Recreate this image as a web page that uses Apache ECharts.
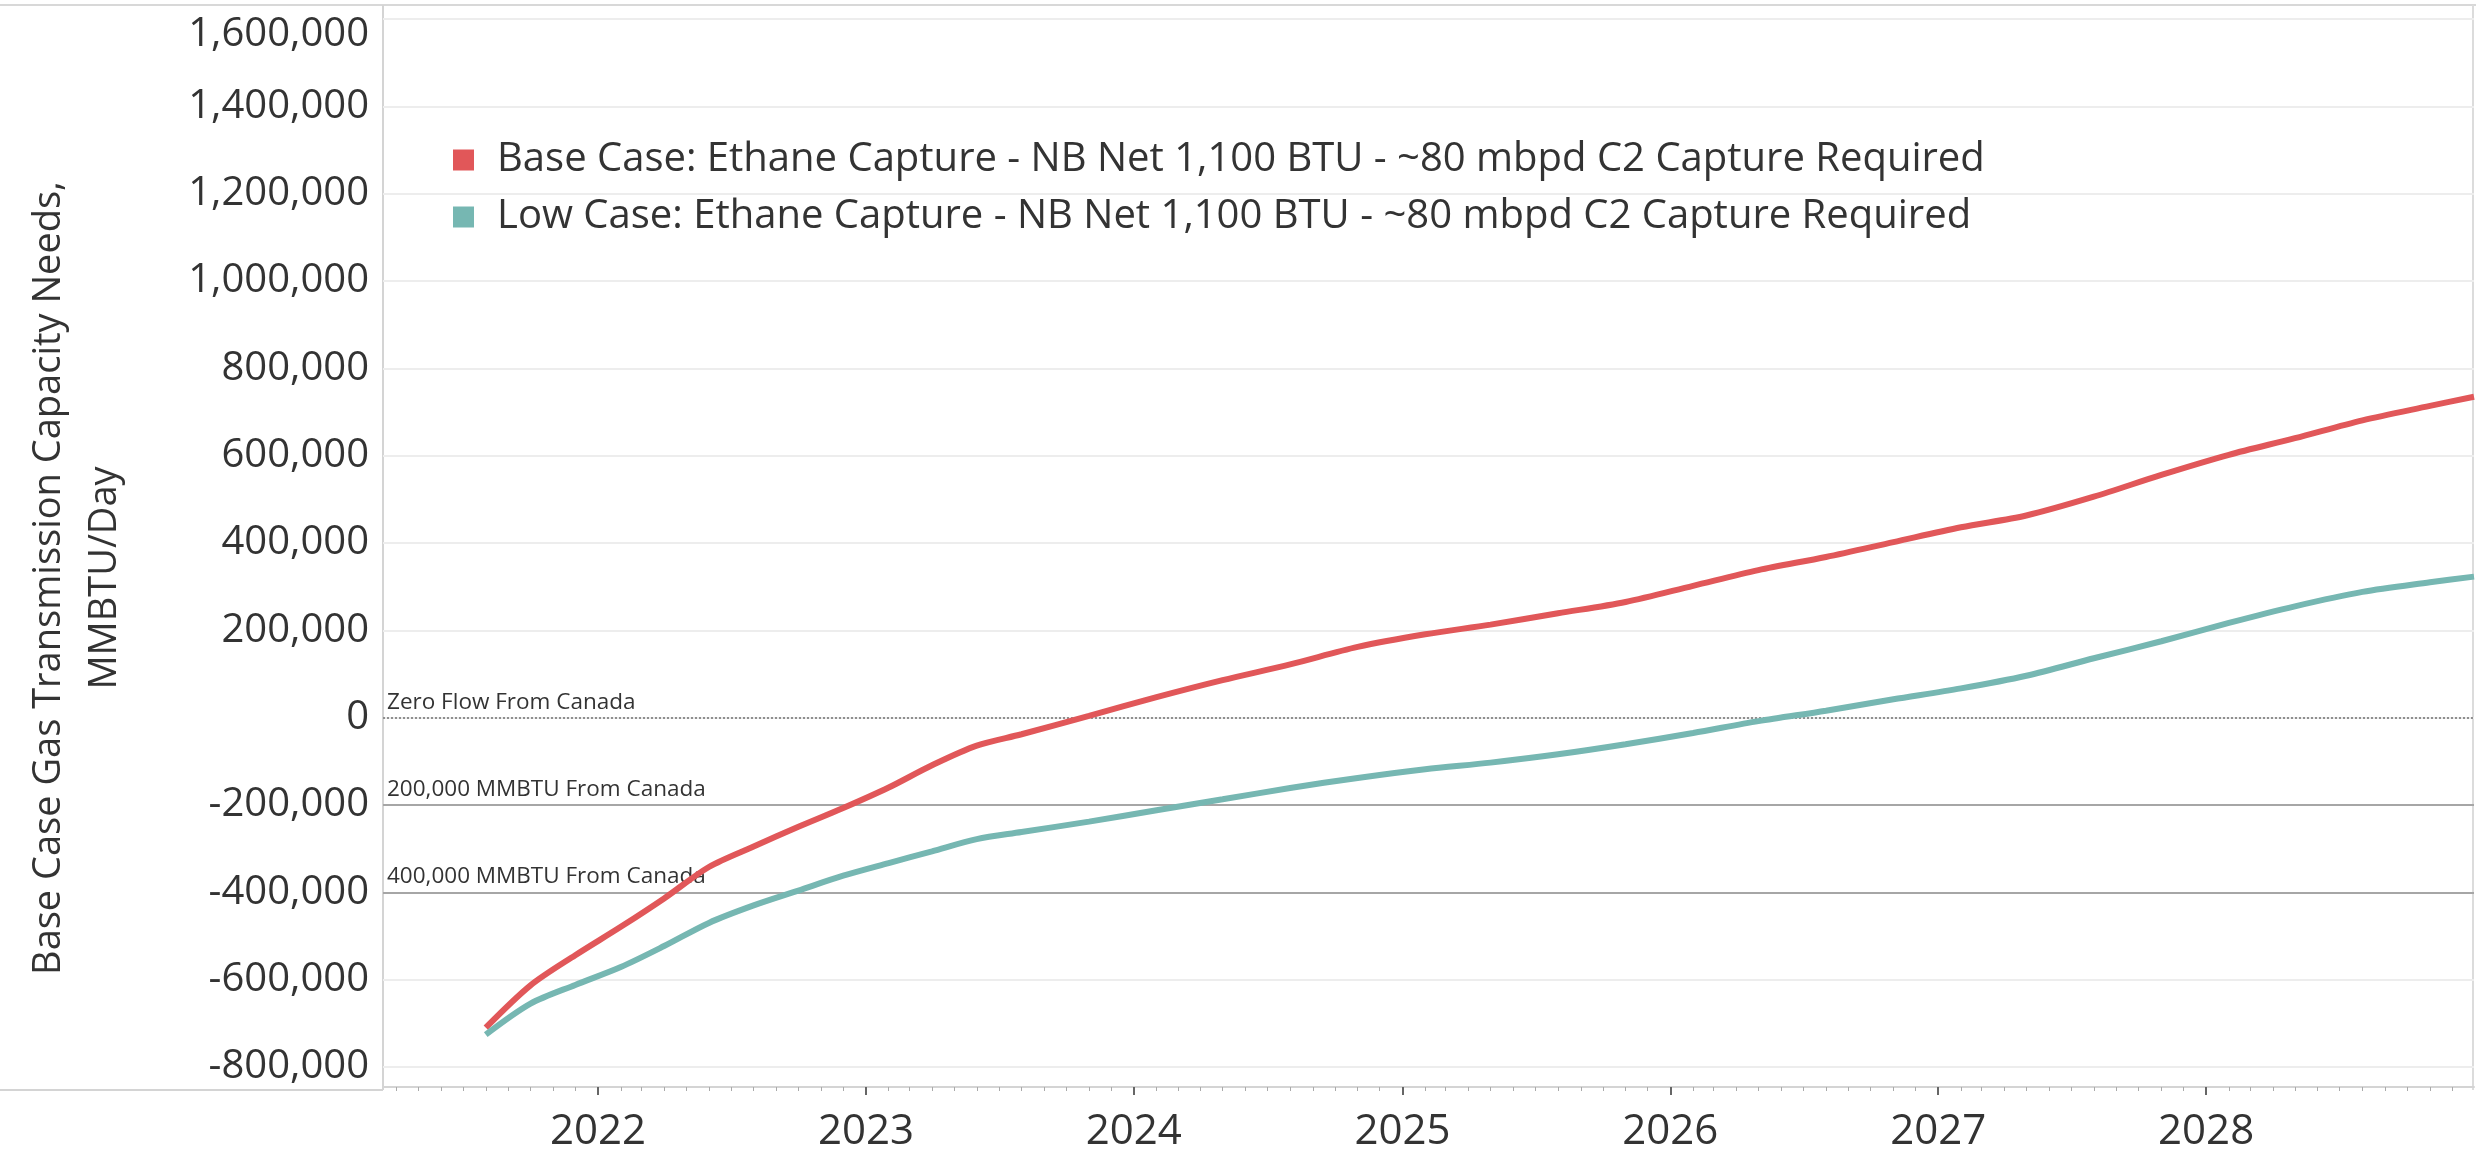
<!DOCTYPE html>
<html>
<head>
<meta charset="utf-8">
<title>Base Case Gas Transmission Capacity Needs</title>
<script src="https://cdn.jsdelivr.net/npm/echarts@6/dist/echarts.min.js"></script>
<style>
  html, body { margin: 0; padding: 0; background: #fff; }
  #chart { width: 2476px; height: 1153px; }
</style>
</head>
<body>
<div id="chart"></div>
<script>
// values (MMBTU/Day)
var dates = ['2021-08-01', '2021-10-01', '2021-12-01', '2022-02-01', '2022-04-01', '2022-06-01',
  '2022-08-01', '2022-10-01', '2022-12-01', '2023-02-01', '2023-04-01', '2023-06-01',
  '2023-08-01', '2023-11-01', '2024-02-01', '2024-05-01', '2024-08-01', '2024-11-01',
  '2025-02-01', '2025-05-01', '2025-08-01', '2025-11-01', '2026-02-01', '2026-05-01',
  '2026-08-01', '2026-11-01', '2027-02-01', '2027-05-01', '2027-08-01', '2027-11-01',
  '2028-02-01', '2028-05-01', '2028-08-01', '2028-11-01', '2028-12-31'];

var baseCase = [-710000, -613000, -544000, -479000, -414000, -342000,
  -295000, -250000, -207000, -160000, -109000, -64000,
  -38000, 4000, 47000, 86000, 122000, 162000,
  191000, 213000, 239000, 265000, 302000, 338000,
  368000, 402000, 436000, 463000, 506000, 556000,
  602000, 640000, 681000, 714000, 735000];

var lowCase = [-726000, -655000, -612000, -571000, -523000, -470000,
  -430000, -396000, -362000, -333000, -306000, -278000,
  -262000, -238000, -212000, -187000, -161000, -138000,
  -118000, -103000, -84000, -61000, -35000, -8000,
  16000, 42000, 67000, 96000, 136000, 175000,
  217000, 255000, 288000, 310000, 323000];

var seriesNames = [
  'Base Case: Ethane Capture - NB Net 1,100 BTU - ~80 mbpd C2 Capture Required',
  'Low Case: Ethane Capture - NB Net 1,100 BTU - ~80 mbpd C2 Capture Required'
];
var yearTicks = [2022, 2023, 2024, 2025, 2026, 2027, 2028];
var refValues = [0, -200000, -400000];
var refLabels = ['Zero Flow From Canada', '200,000 MMBTU From Canada', '400,000 MMBTU From Canada'];
var axisStart = '2021-03-14';
var axisEnd = '2028-12-31';

var FONT = 'Open Sans';

function toTime(s) {
  var p = s.split('-');
  return new Date(+p[0], +p[1] - 1, +p[2]).getTime();
}

var xMin = toTime(axisStart);
var xMax = toTime(axisEnd);
var yearValues = yearTicks.map(function (y) { return new Date(y, 0, 1).getTime(); });

// small monthly ticks along the date axis
var monthValues = [];
for (var y = new Date(xMin).getFullYear(); y <= new Date(xMax).getFullYear(); y++) {
  for (var m = 1; m < 12; m++) {
    var t = new Date(y, m, 1).getTime();
    if (t > xMin && t < xMax) monthValues.push(t);
  }
}

var refLines = refValues.map(function (v, i) {
  return {
    yAxis: v,
    name: refLabels[i],
    lineStyle: v === 0
      ? { color: '#8f8f8f', width: 2, type: [2, 2] }
      : { color: '#a6a6a6', width: 2, type: 'solid' }
  };
});

var chart = echarts.init(document.getElementById('chart'));
chart.setOption({
  backgroundColor: '#ffffff',
  animation: false,
  grid: { left: 383, right: 2, top: 19, bottom: 83, containLabel: false },
  legend: {
    orient: 'vertical',
    left: 448,
    top: 133,
    icon: 'rect',
    itemWidth: 21,
    itemHeight: 21,
    itemGap: 13,
    textStyle: { fontFamily: FONT, fontSize: 40, color: '#333', lineHeight: 44, padding: [0, 0, 0, 18] },
    data: seriesNames
  },
  xAxis: [
    {
      type: 'value',
      min: xMin,
      max: xMax,
      position: 'bottom',
      offset: 20,
      axisLine: { show: true, onZero: false, lineStyle: { color: '#d4d4d4', width: 2 } },
      axisTick: { show: true, customValues: yearValues, length: 8, lineStyle: { color: '#666', width: 2 } },
      axisLabel: {
        customValues: yearValues,
        fontFamily: FONT,
        fontSize: 42,
        color: '#333',
        margin: 24,
        formatter: function (val) { return String(new Date(val).getFullYear()); }
      },
      splitLine: { show: false }
    },
    {
      type: 'value',
      min: xMin,
      max: xMax,
      position: 'bottom',
      offset: 20,
      axisLine: { show: false, onZero: false },
      axisTick: { show: true, customValues: monthValues, length: 4, lineStyle: { color: '#aaa', width: 1 } },
      axisLabel: { show: false },
      splitLine: { show: false }
    }
  ],
  yAxis: {
    type: 'value',
    min: -800000,
    max: 1600000,
    interval: 200000,
    name: 'Base Case Gas Transmission Capacity Needs,\nMMBTU/Day',
    nameLocation: 'middle',
    nameRotate: 90,
    nameGap: 250,
    nameTextStyle: { fontFamily: FONT, fontSize: 38, color: '#333', lineHeight: 56, padding: [0, 70, 0, 0] },
    axisLine: { show: false },
    axisTick: { show: false },
    axisLabel: {
      fontFamily: FONT,
      fontSize: 40,
      color: '#333',
      margin: 14,
      formatter: function (v) {
        var s = v.toLocaleString('en-US');
        return v === 1600000 ? '{top|' + s + '}' : s;
      },
      rich: { top: { fontFamily: FONT, fontSize: 40, color: '#333', padding: [32, 0, 0, 0] } }
    },
    splitLine: { show: true, lineStyle: { color: '#ededed', width: 2 } }
  },
  graphic: [
    { type: 'line', shape: { x1: 0, y1: 5, x2: 2476, y2: 5 }, style: { stroke: '#d8d8d8', lineWidth: 2 }, silent: true },
    { type: 'line', shape: { x1: 383, y1: 5, x2: 383, y2: 1090 }, style: { stroke: '#d4d4d4', lineWidth: 2 }, silent: true },
    { type: 'line', shape: { x1: 2473, y1: 5, x2: 2473, y2: 1090 }, style: { stroke: '#dcdcdc', lineWidth: 2 }, silent: true },
    { type: 'line', shape: { x1: 0, y1: 1090, x2: 383, y2: 1090 }, style: { stroke: '#d4d4d4', lineWidth: 2 }, silent: true }
  ],
  series: [
    {
      name: seriesNames[0],
      type: 'line',
      xAxisIndex: 0,
      data: dates.map(function (d, i) { return [toTime(d), baseCase[i]]; }),
      smooth: 0.3,
      showSymbol: false,
      lineStyle: { color: '#E15759', width: 6 },
      itemStyle: { color: '#E15759' },
      z: 3,
      markLine: {
        silent: true,
        symbol: 'none',
        animation: false,
        label: {
          show: true,
          position: 'insideStartTop',
          formatter: '{b}',
          fontFamily: FONT,
          fontSize: 22.5,
          color: '#333',
          distance: [4, 4]
        },
        data: refLines,
        z: 2
      }
    },
    {
      name: seriesNames[1],
      type: 'line',
      xAxisIndex: 0,
      data: dates.map(function (d, i) { return [toTime(d), lowCase[i]]; }),
      smooth: 0.3,
      showSymbol: false,
      lineStyle: { color: '#76B7B2', width: 6 },
      itemStyle: { color: '#76B7B2' },
      z: 3
    }
  ]
});
</script>
</body>
</html>
